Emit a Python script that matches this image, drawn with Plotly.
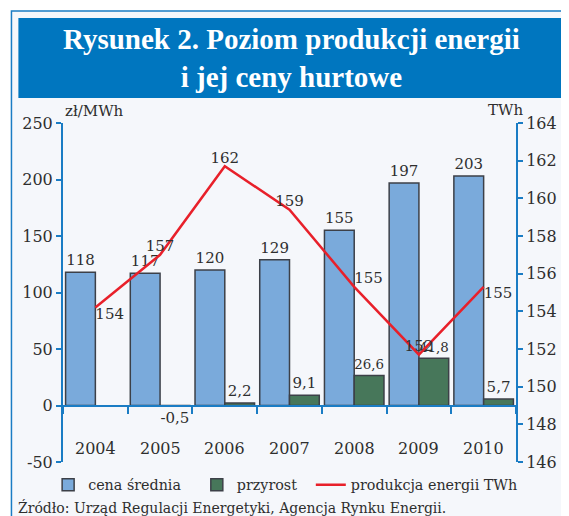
import plotly.graph_objects as go

# ---- data ----
years = ["2004", "2005", "2006", "2007", "2008", "2009", "2010"]
cena_srednia = [118, 117, 120, 129, 155, 197, 203]
przyrost = [None, -0.5, 2.2, 9.1, 26.6, 41.8, 5.7]
produkcja_twh = [154.2, 157.0, 161.7, 159.4, 155.3, 151.7, 155.3]
line_label_pos = ["bottom right", "top center", "top center", "top center",
                  "top right", "top center", "bottom right"]
left_ticks = [-50, 0, 50, 100, 150, 200, 250]
left_tick_text = ["-50", "0", "50", "100", "150", "200", "250"]
right_ticks = [146, 148, 150, 152, 154, 156, 158, 160, 162, 164]
year_label_level = -38  # left-axis value where the year labels sit

# ---- geometry (reference pixels; page body has an 8px margin) ----
OFF = 8
W, H = 569 - OFF, 516 - OFF
L, R, T, B = 63 - OFF, 49, 123 - OFF, 54
PW, PH = W - L - R, H - T - B

def px(x):
    return (x - OFF - L) / PW

def py(y):
    return (H - B - (y - OFF)) / PH

BLUE_AX = "#1a7cc4"
TXT = "#2e2e2e"
FONT = "DejaVu Serif"

fig = go.Figure()

fig.add_trace(go.Bar(
    x=years, y=cena_srednia, name="cena średnia", legend="legend",
    marker=dict(color="#7aaadb", line=dict(color="#3c4048", width=1.5)),
    texttemplate="%{y:.0f}", textposition="outside",
    textfont=dict(family=FONT, size=15, color=TXT), cliponaxis=False,
))
fig.add_trace(go.Bar(
    x=years, y=przyrost, name="przyrost", legend="legend2",
    marker=dict(color="#47775a", line=dict(color="#3c4048", width=1.5)),
    texttemplate="%{y:.1f}", textposition="outside",
    textfont=dict(family=FONT, size=15, color=TXT), cliponaxis=False,
))
fig.add_trace(go.Scatter(
    x=years, y=produkcja_twh, name="produkcja energii TWh", yaxis="y2", legend="legend3",
    mode="lines+text", line=dict(color="#e8202a", width=2.5),
    text=[f"{v:.0f}" for v in produkcja_twh], textposition=line_label_pos,
    textfont=dict(family=FONT, size=15, color=TXT), cliponaxis=False,
))
# helper trace for the zero-line category axis with boundary ticks
fig.add_trace(go.Scatter(
    x=years, y=[None] * len(years), xaxis="x2", yaxis="y",
    showlegend=False, hoverinfo="skip", mode="lines",
))

annotations = [
    dict(text="<b>Rysunek 2. Poziom produkcji energii<br>i jej ceny hurtowe</b>",
         xref="paper", yref="paper", x=px(294), y=py(58),
         xanchor="center", yanchor="middle", showarrow=False,
         font=dict(family="Liberation Serif", size=29, color="white")),
    dict(text="zł/MWh", xref="paper", yref="paper", x=px(63), y=py(111),
         xanchor="left", yanchor="middle", showarrow=False,
         font=dict(family=FONT, size=15, color=TXT)),
    dict(text="TWh", xref="paper", yref="paper", x=px(529), y=py(110),
         xanchor="right", yanchor="middle", showarrow=False,
         font=dict(family=FONT, size=15, color=TXT)),
    dict(text="Źródło: Urząd Regulacji Energetyki, Agencja Rynku Energii.",
         xref="paper", yref="paper", x=px(16), y=py(508),
         xanchor="left", yanchor="middle", showarrow=False,
         font=dict(family=FONT, size=14, color=TXT)),
]
for i, yr in enumerate(years):
    annotations.append(dict(text=yr, x=i, y=year_label_level, xref="x", yref="y",
                            xanchor="center", yanchor="middle", showarrow=False,
                            font=dict(family=FONT, size=16, color=TXT)))

def legend_at(xpix):
    return dict(orientation="h", x=px(xpix), y=py(485), xanchor="left", yanchor="middle",
                bgcolor="rgba(0,0,0,0)", font=dict(family=FONT, size=14.3, color=TXT),
                itemwidth=30)

fig.update_layout(
    width=W, height=H,
    margin=dict(l=L, r=R, t=T, b=B),
    paper_bgcolor="white", plot_bgcolor="rgba(0,0,0,0)",
    separators=", ",
    barmode="group", bargap=0.08, bargroupgap=0,
    font=dict(family=FONT, size=16, color=TXT),
    showlegend=True,
    legend=legend_at(48),
    legend2=legend_at(198),
    legend3=legend_at(313),
    xaxis=dict(type="category", range=[-0.5, 6.5], showline=False, ticks="",
               showgrid=False, showticklabels=False),
    xaxis2=dict(type="category", range=[-0.5, 6.5], overlaying="x", anchor="free",
                position=50 / 300, showline=True, linecolor=BLUE_AX, linewidth=2,
                ticks="outside", tickson="boundaries", ticklen=7, tickwidth=2,
                tickcolor=BLUE_AX, showticklabels=False, showgrid=False),
    yaxis=dict(range=[-50, 250], tickmode="array", tickvals=left_ticks,
               ticktext=left_tick_text, showgrid=False, zeroline=False,
               showline=True, linecolor=BLUE_AX, linewidth=2,
               ticks="outside", ticklen=5, tickwidth=2, tickcolor=BLUE_AX,
               tickfont=dict(family=FONT, size=16, color=TXT)),
    yaxis2=dict(range=[146, 164], tickmode="array", tickvals=right_ticks,
                overlaying="y", side="right",
                showgrid=False, zeroline=False,
                showline=True, linecolor=BLUE_AX, linewidth=2,
                ticks="outside", ticklen=5, tickwidth=2, tickcolor=BLUE_AX,
                tickfont=dict(family=FONT, size=16, color=TXT)),
    shapes=[
        dict(type="rect", xref="paper", yref="paper", layer="below",
             x0=px(11), x1=px(600), y0=py(540), y1=py(11),
             fillcolor="#f5f7fb", line=dict(color=BLUE_AX, width=1.5)),
        dict(type="rect", xref="paper", yref="paper", layer="below",
             x0=px(18), x1=px(600), y0=py(98), y1=py(18),
             fillcolor="#0076bf", line=dict(width=0)),
    ],
    annotations=annotations,
)

fig.write_html("out.html")
